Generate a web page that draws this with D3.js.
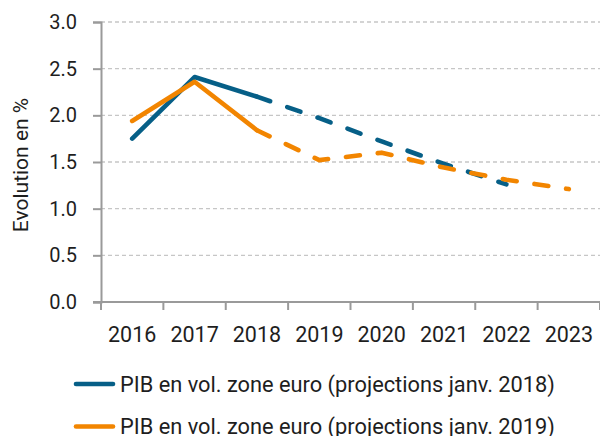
<!DOCTYPE html>
<html>
<head>
<meta charset="utf-8">
<script src="https://cdn.jsdelivr.net/npm/d3@7"></script>
<style>
    body { margin: 0; background: #fff; }
    svg { display: block; font-family: Roboto, "DejaVu Sans", sans-serif; }
</style>
</head>
<body>
<svg id="chart" width="600" height="436"></svg>
<script>
// years on the x axis
const years = ['2016', '2017', '2018', '2019', '2020', '2021', '2022', '2023']

// PIB en volume zone euro, % evolution
const proj2018 = [1.75, 2.41, 2.20, 1.97, 1.72, 1.48, 1.26]
const proj2019 = [1.94, 2.36, 1.84, 1.52, 1.60, 1.44, 1.31, 1.21]

const yTicks = [0, 0.5, 1, 1.5, 2, 2.5, 3]

const labels = [
    'PIB en vol. zone euro (projections janv. 2018)',
    'PIB en vol. zone euro (projections janv. 2019)'
]
const colors = ['#065f87', '#f28500']

// last observed year, after that the lines are dashed
const lastActual = 2

const svg = d3.select('#chart')
const margin = { left: 101, right: 0, top: 22, bottom: 134 }
const width = 600, height = 436

const x = d3.scaleBand()
    .domain(years)
    .range([margin.left, width - margin.right])

const y = d3.scaleLinear()
    .domain([0, 3])
    .range([height - margin.bottom, margin.top])

const axisColor = '#9a9a9a'
const textColor = '#1e1e1e'

/// grid lines ////////
svg.append('g')
    .selectAll('line')
    .data(yTicks.filter(d => d > 0))
    .join('line')
    .attr('x1', margin.left)
    .attr('x2', width - margin.right)
    .attr('y1', d => y(d))
    .attr('y2', d => y(d))
    .attr('stroke', '#c6c6c6')
    .attr('stroke-width', 1.3)
    .attr('stroke-dasharray', '4,3')

/// y axis ////////
const yAxis = svg.append('g')
    .attr('transform', `translate(${margin.left},0)`)
    .call(d3.axisLeft(y).tickValues(yTicks).tickFormat(d3.format('.1f')).tickSize(8).tickPadding(16))

yAxis.select('.domain').attr('stroke', axisColor).attr('stroke-width', 2)
yAxis.selectAll('.tick line').attr('stroke', axisColor).attr('stroke-width', 2)
yAxis.selectAll('.tick text')
    .attr('fill', textColor)
    .attr('font-size', 20)
    .attr('font-family', 'Roboto, sans-serif')

/// x axis : labels centred in the bands, ticks on band edges ////////
const xAxis = svg.append('g')
    .attr('transform', `translate(0,${y(0)})`)
    .call(d3.axisBottom(x).tickSize(0).tickPadding(25))

xAxis.select('.domain').remove()
xAxis.selectAll('.tick text')
    .attr('fill', textColor)
    .attr('font-size', 21.5)
    .attr('font-family', 'Roboto, sans-serif')

const edges = years.map(d => x(d)).concat([x(years[years.length - 1]) + x.bandwidth()])

svg.append('line')
    .attr('x1', margin.left - 8)
    .attr('x2', width - margin.right)
    .attr('y1', y(0))
    .attr('y2', y(0))
    .attr('stroke', axisColor)
    .attr('stroke-width', 2)

svg.append('g')
    .selectAll('line')
    .data(edges)
    .join('line')
    .attr('x1', d => d)
    .attr('x2', d => d)
    .attr('y1', y(0))
    .attr('y2', y(0) + 8)
    .attr('stroke', axisColor)
    .attr('stroke-width', 2)

/// y title ////////
svg.append('text')
    .attr('transform', `translate(28,${(y(0) + y(3)) / 2 + 3}) rotate(-90)`)
    .attr('text-anchor', 'middle')
    .attr('font-size', 21)
    .attr('fill', textColor)
    .text('Evolution en %')

/// series ////////
const line = d3.line()
    .x(d => x(d.year) + x.bandwidth() / 2)
    .y(d => y(d.value))

const series = [proj2018, proj2019].map((values, i) => ({
    color: colors[i],
    label: labels[i],
    points: values.map((v, j) => ({ year: years[j], value: v }))
}))

const seriesGroup = svg.append('g')

series.forEach(s => {
    // solid part : observed years
    seriesGroup.append('path')
        .attr('d', line(s.points.slice(0, lastActual + 1)))
        .attr('fill', 'none')
        .attr('stroke', s.color)
        .attr('stroke-width', 4.6)
        .attr('stroke-linejoin', 'round')
        .attr('stroke-linecap', 'round')

    // dashed part : projections
    seriesGroup.append('path')
        .attr('d', line(s.points.slice(lastActual)))
        .attr('fill', 'none')
        .attr('stroke', s.color)
        .attr('stroke-width', 4.6)
        .attr('stroke-linejoin', 'round')
        .attr('stroke-linecap', 'round')
        .attr('stroke-dasharray', '14,18')
})

/// legend ////////
const legend = svg.append('g')
    .selectAll('g')
    .data(series)
    .join('g')
    .attr('transform', (d, i) => `translate(76,${384 + i * 42.5})`)

legend.append('line')
    .attr('x1', 0)
    .attr('x2', 37)
    .attr('stroke', d => d.color)
    .attr('stroke-width', 4.6)
    .attr('stroke-linecap', 'round')

legend.append('text')
    .attr('x', 44)
    .attr('dy', '0.35em')
    .attr('font-size', 21.8)
    .attr('fill', textColor)
    .text(d => d.label)
</script>
</body>
</html>
